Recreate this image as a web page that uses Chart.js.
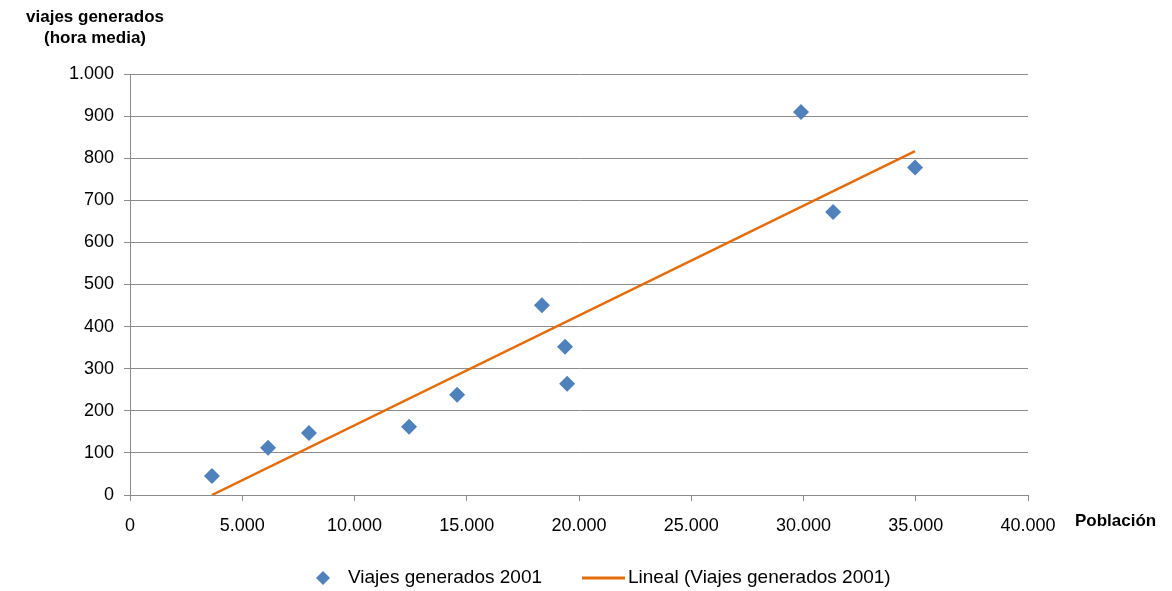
<!DOCTYPE html>
<html>
<head>
<meta charset="utf-8">
<script src="https://cdn.jsdelivr.net/npm/chart.js@4.4.1/dist/chart.umd.min.js"></script>
<style>
  html, body { margin: 0; padding: 0; background: #fff; }
  #wrap { width: 1172px; height: 591px; position: relative; }
</style>
</head>
<body>
<div id="wrap"><canvas id="chart"></canvas></div>
<script>
// población (x) y viajes generados en hora media (y)
const poblacion = [3650, 6150, 7970, 12430, 14570, 18350, 19380, 19470, 29890, 31320, 34970];
const viajes    = [45, 112, 147, 162, 238, 451, 352, 264, 910, 672, 778];
// extremos de la recta de tendencia lineal
const tendenciaX = [3650, 34970];
const tendenciaY = [0, 817];

const serieNombre = 'Viajes generados 2001';
const tendenciaNombre = 'Lineal (Viajes generados 2001)';
const tituloY = ['viajes generados', '(hora media)'];
const tituloX = 'Población';

const azul = '#4F81BD';
const naranja = '#E46C0A';
const gris = '#8C8C8C';
const fuente = "'Liberation Sans', Arial, sans-serif";

function miles(v) {
  return String(v).replace(/\B(?=(\d{3})+(?!\d))/g, '.');
}

// títulos de ejes y leyenda inferior
const extras = {
  id: 'extras',
  afterDraw(chart) {
    const ctx = chart.ctx;
    const ds = chart.data.datasets;
    ctx.save();
    ctx.fillStyle = '#000';
    ctx.font = 'bold 17px ' + fuente;
    ctx.textAlign = 'center';
    ctx.textBaseline = 'middle';
    ctx.fillText(tituloY[0], 95, 17);
    ctx.fillText(tituloY[1], 95, 38);
    ctx.textAlign = 'left';
    ctx.fillText(tituloX, 1075, 521);

    // leyenda
    const ly = 578;
    ctx.fillStyle = ds[0].backgroundColor;
    ctx.beginPath();
    ctx.moveTo(323, ly - 7);
    ctx.lineTo(330, ly);
    ctx.lineTo(323, ly + 7);
    ctx.lineTo(316, ly);
    ctx.closePath();
    ctx.fill();
    ctx.strokeStyle = ds[1].borderColor;
    ctx.lineWidth = 3;
    ctx.beginPath();
    ctx.moveTo(582, ly);
    ctx.lineTo(625, ly);
    ctx.stroke();
    ctx.fillStyle = '#000';
    ctx.font = '19px ' + fuente;
    ctx.fillText(ds[0].label, 348, ly);
    ctx.fillText(ds[1].label, 628, ly);
    ctx.restore();
  }
};

new Chart(document.getElementById('chart'), {
  type: 'scatter',
  data: {
    datasets: [{
      label: serieNombre,
      data: poblacion.map((x, i) => ({ x: x, y: viajes[i] })),
      pointStyle: 'rectRot',
      pointRadius: 8,
      pointHoverRadius: 8,
      backgroundColor: azul,
      borderColor: azul,
      borderWidth: 0,
      order: 1
    }, {
      label: tendenciaNombre,
      type: 'line',
      data: tendenciaX.map((x, i) => ({ x: x, y: tendenciaY[i] })),
      borderColor: naranja,
      backgroundColor: naranja,
      borderWidth: 2.5,
      pointRadius: 0,
      fill: false,
      order: 0
    }]
  },
  options: {
    responsive: true,
    maintainAspectRatio: false,
    animation: false,
    layout: { padding: { top: 74, right: 144, left: 0, bottom: 36 } },
    plugins: {
      tooltip: { enabled: false },
      legend: { display: false }
    },
    scales: {
      x: {
        type: 'linear',
        min: 0,
        max: 40000,
        afterFit(scale) { scale.height = 60; },
        ticks: {
          stepSize: 5000,
          color: '#000',
          padding: 14,
          font: { family: fuente, size: 18 },
          callback: v => miles(v)
        },
        grid: { drawOnChartArea: false, color: gris, tickLength: 6 },
        border: { color: gris, width: 1 }
      },
      y: {
        min: 0,
        max: 1000,
        afterFit(scale) { scale.width = 130; },
        ticks: {
          stepSize: 100,
          color: '#000',
          padding: 10,
          font: { family: fuente, size: 18 },
          callback: v => miles(v)
        },
        grid: { color: gris, tickLength: 6 },
        border: { color: gris, width: 1 }
      }
    }
  },
  plugins: [extras]
});
</script>
</body>
</html>
